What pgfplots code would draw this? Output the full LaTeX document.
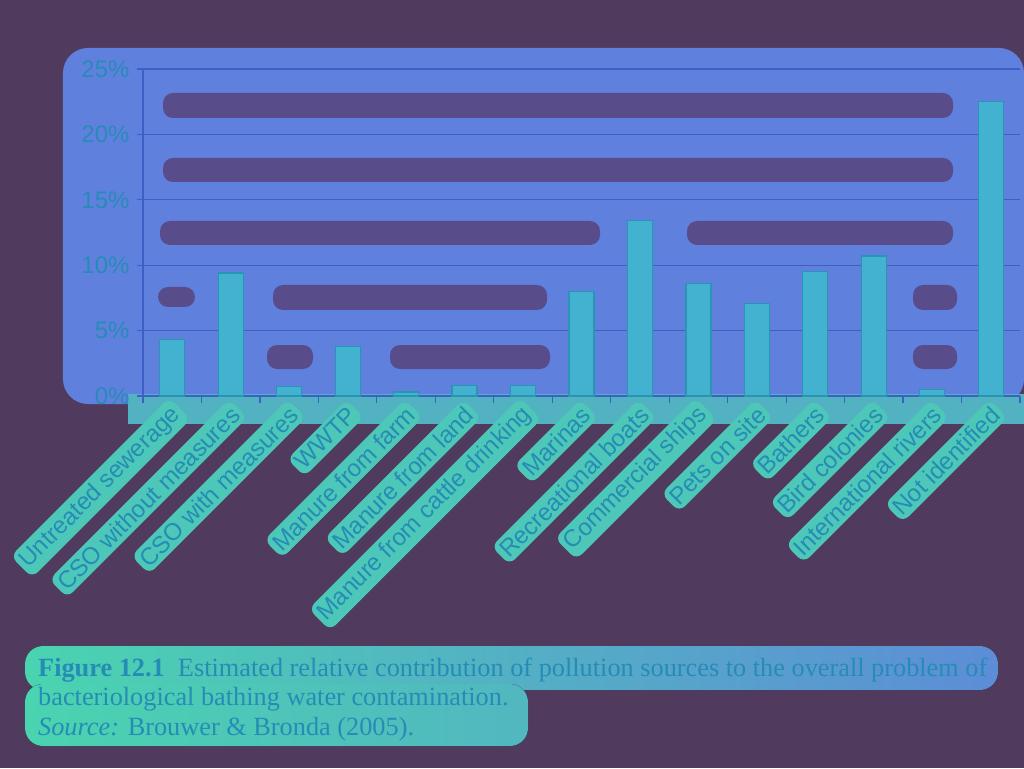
\documentclass[border=0pt]{standalone}
\usepackage{fontspec}
\setmainfont{Liberation Serif}
\newfontfamily\arial{Liberation Sans}
\usepackage{pgfplots}
\pgfplotsset{compat=1.18}
\definecolor{bgp}{RGB}{80,58,94}
\definecolor{axblue}{RGB}{96,128,222}
\definecolor{band}{RGB}{88,76,138}
\definecolor{glow}{RGB}{74,212,176}
\definecolor{txt}{RGB}{38,140,182}
\definecolor{barfill}{RGB}{66,178,208}
\definecolor{baredge}{RGB}{40,150,178}
\definecolor{gridc}{RGB}{62,96,198}
\begin{document}
\begin{tikzpicture}[x=1pt,y=1pt]
% page (pixel (X,Y) -> (X-143, 396-Y))
\useasboundingbox (-143,-372) rectangle (881,396);
\fill[bgp] (-143,-372) rectangle (881,396);
\fill[axblue, rounded corners=25] (-80,348) rectangle (881,-8);
\fill[glow!60!axblue] (-15,2) rectangle (881,-28);
% dark bands between grid lines
\begin{scope}[band, rounded corners=10]
\fill (20,303) rectangle (810,278);
\fill (20,238) rectangle (810,214);
\fill (17,175) rectangle (457,151);
\fill (544,175) rectangle (810,151);
\fill (15,109) rectangle (52,89);
\fill (130,111) rectangle (404,86);
\fill (770,111) rectangle (814,86);
\fill (124,51) rectangle (170,27);
\fill (247,51) rectangle (407,27);
\fill (770,51) rectangle (814,27);
\end{scope}
% caption glow
\fill[left color=glow, right color=axblue!85!glow, rounded corners=18] (-118,-250) rectangle (855,-294);
\fill[left color=glow, right color=glow!65!axblue, rounded corners=18] (-118,-288) rectangle (385,-350);
\begin{axis}[
  at={(0,0)}, anchor=south west,
  scale only axis, width=877pt, height=327pt,
  xmin=-0.5, xmax=14.5, ymin=0, ymax=25,
  ybar, bar width=25pt,
  axis x line*=bottom, axis y line*=left,
  axis line style={gridc, line width=1.2pt},
  tick align=outside,
  major tick length=6pt, minor tick length=7pt,
  tick style={gridc, line width=1.2pt},
  major x tick style={draw=none},
  xtick={0,...,14},
  minor xtick={-0.5,0.5,...,14.5},
  xticklabels={Untreated sewerage, CSO without measures, CSO with measures, WWTP, Manure from farm, Manure from land, Manure from cattle drinking, Marinas, Recreational boats, Commercial ships, Pets on site, Bathers, Bird colonies, International rivers, Not identified},
  xticklabel style={font=\arial\fontsize{24}{24}\selectfont, text=txt, rotate=45, anchor=east, fill=glow!85!axblue, rounded corners=8pt, inner sep=4pt, yshift=-10pt, xshift=1pt},
  ytick={0,5,10,15,20,25},
  yticklabel={\pgfmathprintnumber{\tick}\%},
  /pgf/number format/assume math mode=true,
  yticklabel style={font=\arial\fontsize{24}{24}\selectfont, text=txt, xshift=-4pt},
  ymajorgrids, grid style={gridc, line width=1.2pt},
]
\addplot[fill=barfill, draw=baredge, line width=1.2pt] coordinates {
(0,4.3) (1,9.4) (2,0.7) (3,3.8) (4,0.3) (5,0.8) (6,0.8) (7,8.0) (8,13.4) (9,8.6) (10,7.1) (11,9.5) (12,10.7) (13,0.5) (14,22.5)
};
\end{axis}
\node[anchor=base west, align=left, text=txt, font=\fontsize{26.3}{29.5}\selectfont, inner sep=0pt] at (-105,-339)
{\textbf{Figure 12.1}\enspace Estimated relative contribution of pollution sources to the overall problem of\\
bacteriological bathing water contamination.\\
\textit{Source:} Brouwer \& Bronda (2005).};
\end{tikzpicture}
\end{document}
